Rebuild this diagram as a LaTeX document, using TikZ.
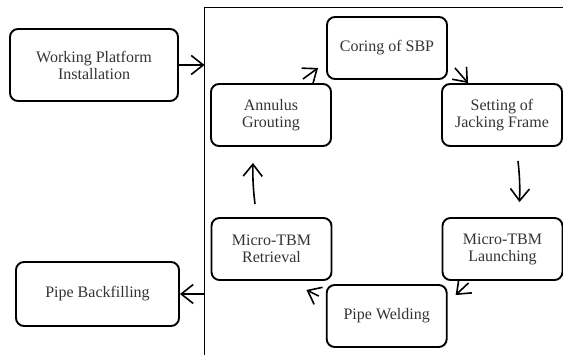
\documentclass[tikz,border=0pt]{standalone}
\usepackage{fontspec}
\setmainfont{Liberation Serif}
\usetikzlibrary{arrows.meta,calc}
\begin{document}
\begin{tikzpicture}[x=1pt,y=-1pt,
  stepbox/.style={draw, line width=1.9pt, rounded corners=8pt,
    minimum width=120pt, minimum height=62pt, align=center, inner sep=0pt,
    text=black!80, font=\fontsize{16}{17}\selectfont},
  flow/.style={line width=1.6pt, -{Straight Barb[length=12pt,width=19pt,line width=1.6pt]}},
  frame/.style={line width=1.9pt}]
\useasboundingbox (0,0) rectangle (563,355);
% frame
\coordinate (ftl) at (204.5,7.5);
\coordinate (fbl) at (204.5,355);
\coordinate (ftr) at (563,7.5);
\draw[frame] (fbl) -- (ftl) -- (ftr);
% nodes
\node[stepbox, minimum width=168pt, minimum height=72pt] (wp) at (94,65) {Working Platform\\Installation};
\node[stepbox, minimum width=163pt, minimum height=64pt] (bf) at (97.5,294) {Pipe Backfilling};
\node[stepbox] (coring) at (387,48) {Coring of SBP};
\node[stepbox] (annulus) at (271,115) {Annulus\\Grouting};
\node[stepbox] (setting) at (502,115) {Setting of\\Jacking Frame};
\node[stepbox] (retrieval) at (271.5,249) {Micro-TBM\\Retrieval};
\node[stepbox] (launching) at (502.5,249) {Micro-TBM\\Launching};
\node[stepbox] (welding) at (386.7,316) {Pipe Welding};
% connectors
\draw[flow] (wp.east) -- (wp.east -| ftl);
\draw[flow] (bf.east -| ftl) -- (bf.east);
\draw[flow] ($(annulus.north east)+(-29,-4)$) -- ($(coring.south west)+(-8,-12)$);
\draw[flow] ($(coring.south east)+(7,-12)$) -- ($(setting.north west)+(27,0)$);
\draw[flow] ($(setting.south)+(16,14)$) to[bend left=4] ($(launching.north)+(17,-15)$);
\draw[flow] ($(launching.south west)+(27,2)$) -- ($(welding.north east)+(8,11)$);
\draw[flow] ($(welding.north west)+(-7,12)$) -- ($(retrieval.south east)+(-26,9)$);
\draw[flow] ($(retrieval.north)+(-16.5,-13)$) to[bend left=4] ($(annulus.south)+(-18,16)$);
\end{tikzpicture}
\end{document}
